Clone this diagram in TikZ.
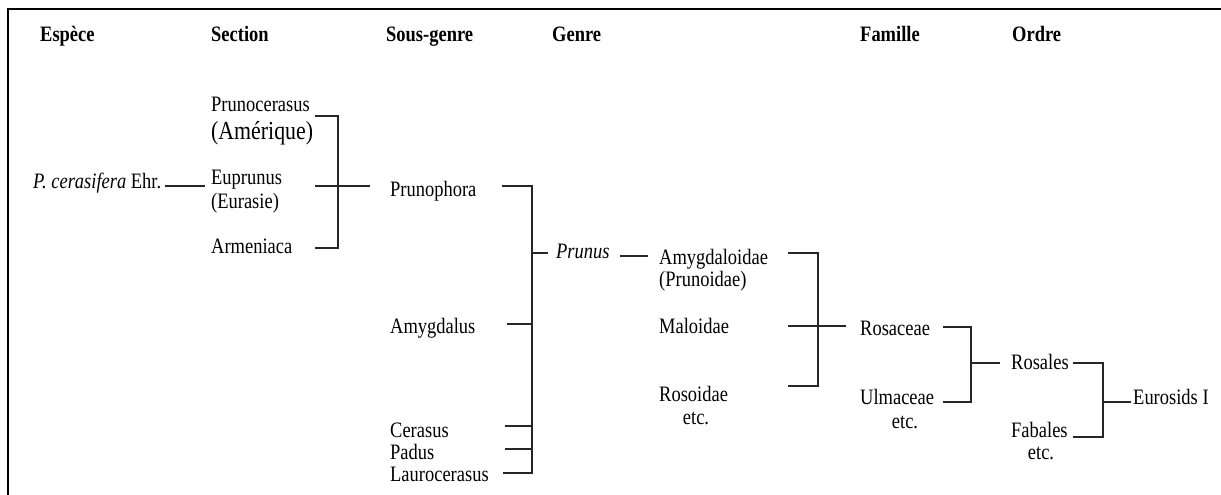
\documentclass[tikz,border=0pt]{standalone}
\usepackage{fontspec}
\setmainfont[FakeStretch=0.84]{Liberation Serif}
\begin{document}
\begin{tikzpicture}[x=1pt,y=-1pt,
  lbl/.style={anchor=base west,inner sep=0pt,font=\fontsize{22}{26}\selectfont},
  big/.style={lbl,font=\fontsize{26}{30}\selectfont},
  etc/.style={anchor=base,inner sep=0pt,font=\fontsize{22}{26}\selectfont},
  hdr/.style={lbl,font=\fontsize{22}{26}\selectfont\bfseries},
  ln/.style={line width=1.3pt,black!85},
  frame/.style={line width=2.6pt,black}]
\useasboundingbox (0,0) rectangle (1221,495);
\draw[frame] (1221,9) -- (8,9) -- (8,495);

% headers
\node[hdr] (hEsp) at (40,42) {Espèce};
\node[hdr] (hSec) at (211,42) {Section};
\node[hdr] (hSg) at (386,42) {Sous-genre};
\node[hdr] (hGen) at (552,42) {Genre};
\node[hdr] (hFam) at (860,42) {Famille};
\node[hdr] (hOrd) at (1012,42) {Ordre};

% species
\node[lbl] (cer) at (33,188) {\textit{P. cerasifera} Ehr.};

% sections
\node[lbl] (prunoc) at (211,111) {Prunocerasus};
\node[big] (amer) at (211,139) {(Amérique)};
\node[lbl] (eupr) at (211,184) {Euprunus};
\node[lbl] (eura) at (211,208) {(Eurasie)};
\node[lbl] (arm) at (211,253) {Armeniaca};

% sous-genres
\node[lbl] (prunoph) at (390,196) {Prunophora};
\node[lbl] (amyg) at (390,333) {Amygdalus};
\node[lbl] (ceras) at (390,437) {Cerasus};
\node[lbl] (padus) at (390,459) {Padus};
\node[lbl] (lauro) at (390,481) {Laurocerasus};

% genre
\node[lbl] (prunus) at (556,258) {\textit{Prunus}};

% sous-familles
\node[lbl] (amygd) at (659,264) {Amygdaloidae};
\node[lbl] (pruno) at (659,286) {(Prunoidae)};
\node[lbl] (malo) at (659,333) {Maloidae};
\node[lbl] (roso) at (659,401) {Rosoidae};
\node[etc] (etc1) at (696,424) {etc.};

% familles
\node[lbl] (rosac) at (860,335) {Rosaceae};
\node[lbl] (ulma) at (860,404) {Ulmaceae};
\node[etc] (etc2) at (905,428) {etc.};

% ordres
\node[lbl] (rosal) at (1011,369) {Rosales};
\node[lbl] (fabal) at (1011,437) {Fabales};
\node[etc] (etc3) at (1041,459) {etc.};

\node[lbl] (euro) at (1133,404) {Eurosids I};

% connector coordinates
\coordinate (c0a) at (165,186); \coordinate (c0b) at (205,186);
\coordinate (s1) at (315,116); \coordinate (s2) at (315,186); \coordinate (s3) at (315,248);
\coordinate (sb1) at (338,116); \coordinate (sb3) at (338,248); \coordinate (sg) at (370,186);
\coordinate (g1) at (502,186); \coordinate (g2) at (507,324); \coordinate (g3) at (505,426);
\coordinate (g4) at (505,449); \coordinate (g5) at (503,473);
\coordinate (gb1) at (532,186); \coordinate (gb5) at (532,473); \coordinate (gm) at (532,253);
\coordinate (gp) at (548,253);
\coordinate (pa) at (620,256); \coordinate (pb) at (648,256);
\coordinate (f1) at (788,253); \coordinate (f2) at (788,326); \coordinate (f3) at (788,386);
\coordinate (fb1) at (818,253); \coordinate (fb3) at (818,386); \coordinate (fm) at (846,326);
\coordinate (o1) at (943,327); \coordinate (o2) at (943,402);
\coordinate (ob1) at (971,327); \coordinate (ob2) at (971,402); \coordinate (om) at (1000,363);
\coordinate (e1) at (1073,363); \coordinate (e2) at (1073,437);
\coordinate (eb1) at (1103,363); \coordinate (eb2) at (1103,437); \coordinate (em) at (1131,402);

\draw[ln] (c0a) -- (c0b);
\draw[ln] (s1) -- (sb1) -- (sb3) -- (s3);
\draw[ln] (s2) -- (sg);
\draw[ln] (g1) -- (gb1) -- (gb5) -- (g5);
\draw[ln] (g2) -- (g2 -| gb1);
\draw[ln] (g3) -- (g3 -| gb1);
\draw[ln] (g4) -- (g4 -| gb1);
\draw[ln] (gm) -- (gp);
\draw[ln] (pa) -- (pb);
\draw[ln] (f1) -- (fb1) -- (fb3) -- (f3);
\draw[ln] (f2) -- (fm);
\draw[ln] (o1) -- (ob1) -- (ob2) -- (o2);
\draw[ln] (ob1 |- om) -- (om);
\draw[ln] (e1) -- (eb1) -- (eb2) -- (e2);
\draw[ln] (eb1 |- em) -- (em);
\end{tikzpicture}
\end{document}
